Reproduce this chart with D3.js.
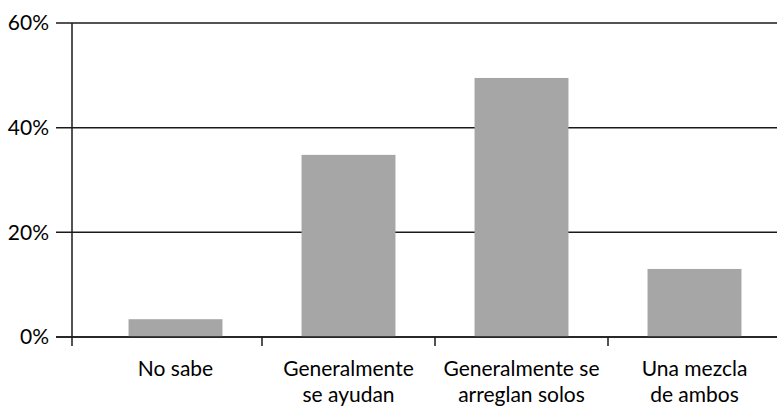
<!DOCTYPE html>
<html>
<head>
<meta charset="utf-8">
<script src="https://cdn.jsdelivr.net/npm/d3@7"></script>
<style>
  html, body { margin: 0; padding: 0; background: #fff; }
  svg { display: block; font-family: "Lato", "Open Sans", sans-serif; }
</style>
</head>
<body>
<svg id="chart" width="777" height="410"></svg>
<script>
// Response categories (each split into display lines) and their shares in percent
const categories = [
  ["No sabe"],
  ["Generalmente", "se ayudan"],
  ["Generalmente se", "arreglan solos"],
  ["Una mezcla", "de ambos"]
];
const values = [3.4, 34.8, 49.5, 13.0];
const yTicks = [0, 20, 40, 60];
const yTickLabels = ["0%", "20%", "40%", "60%"];

const svg = d3.select("#chart");
const keys = categories.map(c => c.join(" "));

const axisX = 72, plotTop = 23, plotBottom = 337;
const ink = "#1a1a1a";

const x = d3.scaleBand()
  .domain(keys)
  .range([89, 781])
  .paddingInner(0.457)
  .paddingOuter(0.2285);

const y = d3.scaleLinear().domain([0, 60]).range([plotBottom, plotTop]);

// Horizontal gridlines with short ticks poking left of the axis
svg.append("g")
  .selectAll("line")
  .data(yTicks)
  .join("line")
  .attr("x1", 56).attr("x2", 777)
  .attr("y1", d => y(d)).attr("y2", d => y(d))
  .attr("stroke", ink).attr("stroke-width", 1.5);

// Y tick labels
svg.append("g")
  .selectAll("text")
  .data(yTicks)
  .join("text")
  .attr("x", 49)
  .attr("y", d => y(d))
  .attr("dy", "0.35em")
  .attr("text-anchor", "end")
  .attr("font-size", 21)
  .attr("fill", "#000")
  .text((d, i) => yTickLabels[i]);

// Bars
svg.append("g")
  .selectAll("rect")
  .data(values)
  .join("rect")
  .attr("x", (d, i) => x(keys[i]))
  .attr("width", x.bandwidth())
  .attr("y", d => y(d))
  .attr("height", d => y(0) - y(d))
  .attr("fill", "#a6a6a6");

// Redraw the baseline over the bars
svg.append("line")
  .attr("x1", 56).attr("x2", 777)
  .attr("y1", y(0)).attr("y2", y(0))
  .attr("stroke", ink).attr("stroke-width", 1.5);

// Vertical axis line
svg.append("line")
  .attr("x1", axisX).attr("x2", axisX)
  .attr("y1", plotTop).attr("y2", plotBottom + 9)
  .attr("stroke", ink).attr("stroke-width", 1.5);

// Category separator ticks below the baseline
const step = x.step();
const separators = keys.slice(1).map(k => x(k) - x.paddingInner() * step / 2);
svg.append("g")
  .selectAll("line")
  .data(separators)
  .join("line")
  .attr("x1", d => d).attr("x2", d => d)
  .attr("y1", plotBottom).attr("y2", plotBottom + 9)
  .attr("stroke", ink).attr("stroke-width", 1.5);

// Category labels
const labels = svg.append("g")
  .selectAll("text")
  .data(categories)
  .join("text")
  .attr("x", (d, i) => x(keys[i]) + x.bandwidth() / 2)
  .attr("y", 376)
  .attr("text-anchor", "middle")
  .attr("font-size", 21)
  .attr("fill", "#000");
labels.selectAll("tspan")
  .data(d => d)
  .join("tspan")
  .attr("x", function () { return this.parentNode.getAttribute("x"); })
  .attr("dy", (d, i) => i === 0 ? 0 : 26)
  .text(d => d);
</script>
</body>
</html>
